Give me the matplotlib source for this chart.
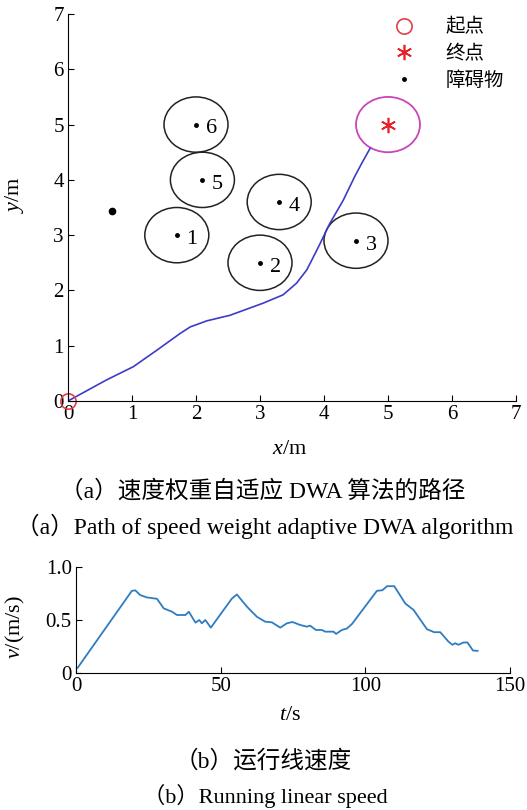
import numpy as np
import matplotlib.pyplot as plt
from matplotlib.patches import Circle

plt.rcParams['font.family'] = ['Liberation Serif', 'Noto Sans CJK SC']
plt.rcParams['mathtext.fontset'] = 'custom'
plt.rcParams['mathtext.it'] = 'Liberation Serif:italic'
plt.rcParams['mathtext.rm'] = 'Liberation Serif'

# obstacles (x, y) with labels
obs_x = [1.7, 3.0, 4.5, 3.3, 2.1, 2.0]
obs_y = [3.0, 2.5, 2.9, 3.6, 4.0, 5.0]
obs_labels = ['1', '2', '3', '4', '5', '6']
extra_obs = (0.68, 3.44)
obs_radius = 0.5

start = (0, 0)
goal = (5, 5)

# path of the robot
path_x = [0.0, 0.30, 0.60, 1.02, 1.39, 1.75, 1.91, 2.17, 2.53, 3.05, 3.36, 3.57,
          3.73, 3.81, 3.94, 4.09, 4.30, 4.48, 4.59, 4.72]
path_y = [0.0, 0.19, 0.38, 0.62, 0.92, 1.22, 1.34, 1.45, 1.55, 1.77, 1.92, 2.13,
          2.37, 2.55, 2.85, 3.21, 3.63, 4.06, 4.30, 4.57]

# running linear speed
t = [0.6, 19.3, 20.5, 22.2, 24.5, 28.0, 30.3, 33.2, 34.9, 37.8, 39.0, 41.3, 42.6,
     43.5, 44.7, 46.6, 53.9, 55.6, 59.1, 62.5, 65.4, 67.7, 70.6, 72.9, 74.8, 77.5,
     79.8, 80.9, 82.9, 85.0, 86.1, 89.0, 89.9, 91.9, 93.6, 95.4, 104.0, 105.9,
     107.5, 110.0, 113.8, 116.7, 121.3, 123.8, 125.9, 128.7, 130.1, 131.1, 132.2,
     133.9, 135.3, 137.2, 138.8]
v = [0.05, 0.775, 0.78, 0.735, 0.713, 0.70, 0.61, 0.578, 0.547, 0.547, 0.578, 0.475,
     0.50, 0.469, 0.50, 0.428, 0.703, 0.741, 0.625, 0.531, 0.484, 0.478, 0.428, 0.469,
     0.481, 0.453, 0.437, 0.447, 0.406, 0.406, 0.39, 0.39, 0.369, 0.406, 0.419, 0.463,
     0.775, 0.781, 0.819, 0.819, 0.656, 0.594, 0.413, 0.385, 0.385, 0.297, 0.266,
     0.281, 0.266, 0.288, 0.288, 0.212, 0.209]

fig = plt.figure(figsize=(5.27, 8.10), dpi=100)

# ---- (a) path ----
ax = fig.add_axes([68 / 527, 1 - 401 / 810, 448 / 527, 387 / 810])
for x, y, lab in zip(obs_x, obs_y, obs_labels):
    ax.add_patch(Circle((x, y), obs_radius, fill=False, ec='#222222', lw=1.1))
    ax.text(x + 0.15, y - 0.08, lab, fontsize=16, ha='left', va='center')
ax.add_patch(Circle(goal, obs_radius, fill=False, ec='#c846b8', lw=1.3))
ax.plot(path_x, path_y, color='#3c3cc8', lw=1.2)
ax.plot(*start, 'o', ms=11, mfc='none', mec='#e0404a', mew=1.2, label='起点', clip_on=False)
ax.plot(*goal, color='#e8202a', label='终点', marker=(6, 2, 0), ms=11, mew=1.2, ls='none')
ax.plot(obs_x, obs_y, '.', color='black', ms=5, label='障碍物')
ax.plot(*extra_obs, '.', color='black', ms=9)

ax.set_xlim(0, 7)
ax.set_ylim(0, 7)
ax.set_xticks(range(8))
ax.set_yticks(range(8))
ax.spines[['top', 'right']].set_visible(False)
ax.tick_params(direction='in', labelsize=15, length=4, pad=3)
ax.legend(loc='upper left', bbox_to_anchor=(0.70, 1.008), borderaxespad=0, frameon=False,
          handlelength=1.5, handletextpad=1.4, labelspacing=0.42, fontsize=14)

fig.text(15 / 527, 1 - 195 / 810, r'$y$/m', rotation=90, ha='center', va='center', fontsize=16)
fig.text(290 / 527, 1 - 450 / 810, r'$x$/m', ha='center', va='center', fontsize=16)
fig.text(263 / 527, 1 - 491 / 810, '（a）速度权重自适应 DWA 算法的路径', ha='center', va='center', fontsize=17)
fig.text(265 / 527, 1 - 526 / 810, '（a）Path of speed weight adaptive DWA algorithm',
         ha='center', va='center', fontsize=17)

# ---- (b) speed ----
ax2 = fig.add_axes([76 / 527, 1 - 673 / 810, 434 / 527, 106 / 810])
ax2.plot(t, v, color='#2f7cc0', lw=1.3)
ax2.set_xlim(0, 150)
ax2.set_ylim(0, 1)
ax2.set_xticks([0, 50, 100, 150])
ax2.set_yticks([0, 0.5, 1.0])
ax2.set_yticklabels(['0', '0.5', '1.0'])
ax2.spines[['top', 'right']].set_visible(False)
ax2.tick_params(direction='in', labelsize=15, length=4, pad=3)

fig.text(15 / 527, 1 - 627 / 810, r'$v$/(m/s)', rotation=90, ha='center', va='center', fontsize=16)
fig.text(290 / 527, 1 - 715 / 810, r'$t$/s', ha='center', va='center', fontsize=16)
fig.text(263 / 527, 1 - 761 / 810, '（b）运行线速度', ha='center', va='center', fontsize=17)
fig.text(265 / 527, 1 - 796 / 810, '（b）Running linear speed', ha='center', va='center', fontsize=16)

fig.savefig('out.png', dpi=100)
